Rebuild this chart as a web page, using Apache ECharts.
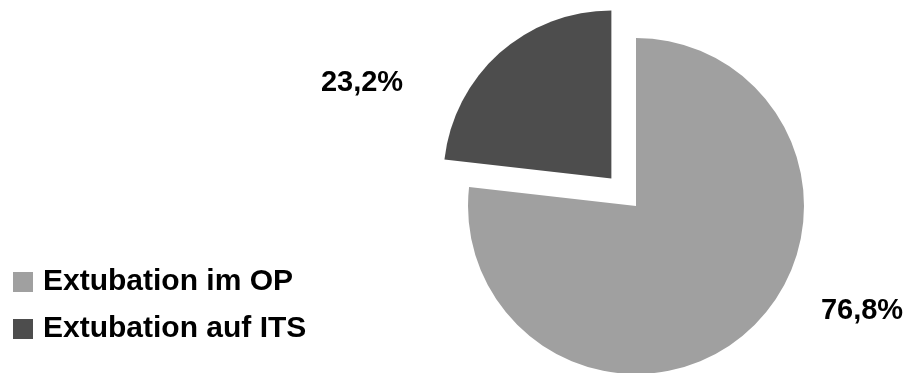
<!DOCTYPE html>
<html>
<head>
<meta charset="utf-8">
<script src="https://cdn.jsdelivr.net/npm/echarts@6/dist/echarts.min.js"></script>
<style>
  html, body { margin: 0; padding: 0; background: #ffffff; }
  #chart { width: 908px; height: 373px; }
</style>
</head>
<body>
<div id="chart"></div>
<script>
// Share of extubations by location (percent)
const categories = ['Extubation im OP', 'Extubation auf ITS'];
const shares = [76.8, 23.2];
const colors = ['#a0a0a0', '#4d4d4d'];
// Slices pulled out of the pie
const exploded = [false, true];

const fontFamily = '"Liberation Sans", Arial, Helvetica, sans-serif';

const chart = echarts.init(document.getElementById('chart'), null, { renderer: 'canvas' });

const pieData = categories.map((name, i) => ({
  name: name,
  value: shares[i],
  selected: exploded[i],
  itemStyle: { color: colors[i] }
}));

const formatShare = (v) => v.toFixed(1).replace('.', ',') + '%';

// Percentage labels placed beside their slices
const labelAnchors = [
  { x: 862, y: 311 },
  { x: 362, y: 83 }
];
const labelGraphics = shares.map((v, i) => ({
  type: 'text',
  x: labelAnchors[i].x,
  y: labelAnchors[i].y,
  style: {
    text: formatShare(v),
    fontFamily: fontFamily,
    fontWeight: 'bold',
    fontSize: 29,
    fill: '#000000',
    align: 'center',
    verticalAlign: 'middle'
  }
}));

chart.setOption({
  animation: false,
  backgroundColor: '#ffffff',
  legend: {
    orient: 'vertical',
    left: 13,
    top: 266,
    padding: 0,
    icon: 'rect',
    itemWidth: 20,
    itemHeight: 20,
    itemGap: 15,
    selectedMode: false,
    data: categories,
    textStyle: {
      fontFamily: fontFamily,
      fontWeight: 'bold',
      fontSize: 30,
      color: '#000000',
      lineHeight: 32,
      padding: [0, 0, 0, 5]
    }
  },
  graphic: labelGraphics,
  series: [{
    type: 'pie',
    center: [636, 206],
    radius: 168,
    startAngle: 90,
    clockwise: true,
    selectedMode: 'multiple',
    selectedOffset: 37,
    emphasis: { disabled: true },
    itemStyle: { borderWidth: 0 },
    label: { show: false },
    labelLine: { show: false },
    data: pieData
  }]
});
</script>
</body>
</html>
